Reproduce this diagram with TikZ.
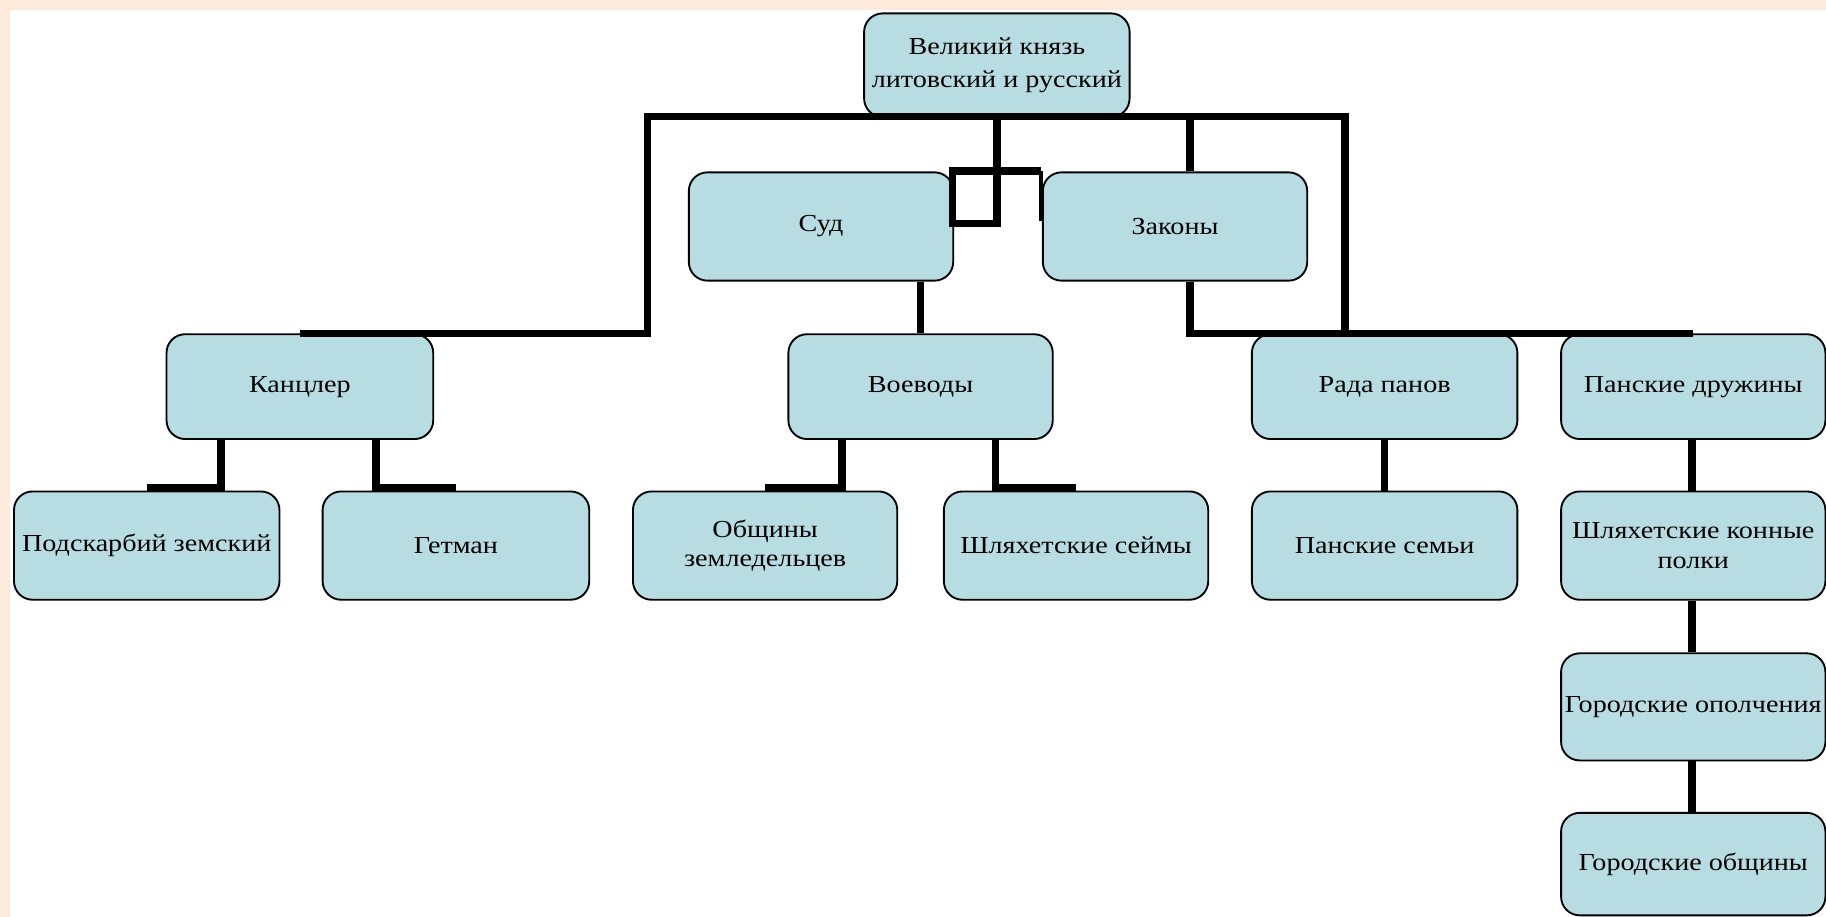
\documentclass[tikz,border=0pt]{standalone}
\usepackage{fontspec}
\setmainfont{Liberation Serif}[FakeStretch=1.15]
\definecolor{peach}{RGB}{253,234,218}
\definecolor{boxblue}{RGB}{183,221,226}
\begin{document}
\begin{tikzpicture}[x=1pt,y=-1pt,
  box/.style={draw=black, line width=1.6pt, fill=boxblue, rounded corners=16pt,
    minimum width=227pt, minimum height=91pt, align=center, inner sep=2pt,
    font=\fontsize{21}{25}\selectfont},
  conn/.style={line width=6.5pt, line cap=butt, line join=miter}]
\useasboundingbox (0,0) rectangle (1568,787);
\fill[peach] (0,0) rectangle (1568,787);
\fill[white] (9,9) rectangle (1568,787);

% nodes
\node[box, minimum width=228pt, minimum height=89pt, font=\fontsize{21}{28}\selectfont] (top) at (856,56) {Великий князь\\литовский и русский};
\node[box, minimum height=93pt] (sud) at (705,194.5) {Суд};
\node[box, minimum height=93pt] (zak) at (1009,194.5) {Законы};
\node[box, minimum width=229pt, minimum height=90pt] (kan) at (257.5,332) {Канцлер};
\node[box, minimum height=90pt] (voe) at (790.5,332) {Воеводы};
\node[box, minimum width=228pt, minimum height=90pt] (rada) at (1189,332) {Рада панов};
\node[box, minimum height=90pt] (dru) at (1454,332) {Панские дружины};
\node[box, minimum width=228pt, minimum height=93pt] (pod) at (126,468.5) {Подскарбий земский};
\node[box, minimum width=229pt, minimum height=93pt] (get) at (391.5,468.5) {Гетман};
\node[box, minimum height=93pt] (obs) at (657,468.5) {Общины\\земледельцев};
\node[box, minimum height=93pt] (shs) at (924,468.5) {Шляхетские сеймы};
\node[box, minimum width=228pt, minimum height=93pt] (sem) at (1189,468.5) {Панские семьи};
\node[box, minimum height=93pt] (kon) at (1454,468.5) {Шляхетские конные\\полки};
\node[box, minimum height=92pt] (opo) at (1454,607) {Городские ополчения};
\node[box, minimum height=88pt] (gob) at (1454,742) {Городские общины};

% junction coordinates
\coordinate (jL) at (556,100);
\coordinate (jR) at (1155,100);
\coordinate (zkTop) at (1022,100);
\coordinate (b1) at (818,192);
\coordinate (b2) at (818,147);
\coordinate (b3) at (894,147);
\coordinate (b4) at (894,190);

% connectors
\draw[conn] (kan.north) -- (kan.north -| jL) -- (jL) -- (jR) -- (jR |- dru.north) -- (dru.north);
\draw[conn] (zkTop) -- (zkTop |- zak.north);
\draw[conn] (zkTop |- zak.south) |- (jR |- dru.north);
\draw[conn] (top.south) -- (top.south |- b1) -- (b1) -- (b2) -- (b3);
\draw[line width=4pt] (b3) -- (b4);
\draw[conn] (sud.south -| voe.north) -- (voe.north);

\draw[conn] ([xshift=-67.5pt]kan.south) |- ([yshift=2pt]pod.north);
\draw[conn] ([xshift=65.5pt]kan.south) |- ([yshift=2pt]get.north);
\draw[conn] ([xshift=-67.5pt]voe.south) |- ([yshift=2pt]obs.north);
\draw[conn] ([xshift=64.5pt]voe.south) |- ([yshift=2pt]shs.north);

\draw[conn] (rada.south) -- (sem.north);
\draw[conn] ([xshift=-1pt]dru.south) -- ([xshift=-1pt]kon.north);
\draw[conn] ([xshift=-1pt]kon.south) -- ([xshift=-1pt]opo.north);
\draw[conn] ([xshift=-1pt]opo.south) -- ([xshift=-1pt]gob.north);
\end{tikzpicture}
\end{document}
